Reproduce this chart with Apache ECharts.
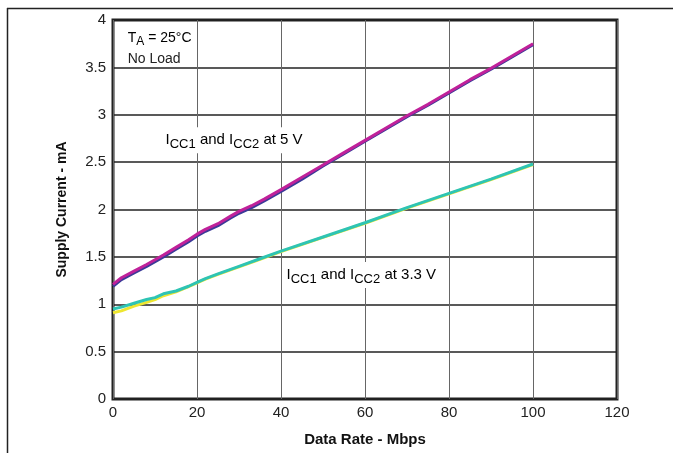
<!DOCTYPE html>
<html><head><meta charset="utf-8">
<script src="https://cdn.jsdelivr.net/npm/echarts@6/dist/echarts.min.js"></script>
<style>html,body{margin:0;padding:0;background:#fff}#c{width:673px;height:453px}</style>
</head><body><div id="c"></div>
<script>
// Data Rate (Mbps)
const x5 = [0, 2, 5, 8, 10, 12, 15, 18, 20, 22, 25, 28, 30, 33, 36, 40, 45, 50, 55, 60, 65, 70, 75, 80, 85, 90, 95, 100];
const icc5a = [1.21, 1.28, 1.35, 1.42, 1.47, 1.52, 1.60, 1.68, 1.74, 1.79, 1.85, 1.93, 1.98, 2.04, 2.11, 2.21, 2.34, 2.47, 2.60, 2.73, 2.86, 2.99, 3.11, 3.24, 3.37, 3.49, 3.62, 3.75];
const icc5b = [1.19, 1.26, 1.33, 1.40, 1.45, 1.50, 1.58, 1.66, 1.72, 1.77, 1.83, 1.91, 1.96, 2.02, 2.09, 2.19, 2.32, 2.46, 2.59, 2.72, 2.85, 2.98, 3.10, 3.23, 3.36, 3.48, 3.61, 3.74];
const x33 = [0, 2, 5, 8, 10, 12, 15, 18, 20, 22, 25, 30, 35, 40, 50, 60, 70, 80, 90, 100];
const icc33a = [0.95, 0.97, 1.01, 1.05, 1.07, 1.11, 1.14, 1.19, 1.23, 1.27, 1.32, 1.40, 1.48, 1.56, 1.71, 1.86, 2.02, 2.17, 2.32, 2.48];
const icc33b = [0.91, 0.93, 0.98, 1.02, 1.05, 1.09, 1.13, 1.185, 1.225, 1.265, 1.315, 1.395, 1.475, 1.555, 1.705, 1.855, 2.015, 2.165, 2.315, 2.475];
const xTicks = [0, 20, 40, 60, 80, 100, 120];
const yTicks = [0, 0.5, 1, 1.5, 2, 2.5, 3, 3.5, 4];

const pair = (xs, ys) => xs.map((v, i) => [v, ys[i]]);
const FONT = 'Arial, "Liberation Sans", sans-serif';
const chart = echarts.init(document.getElementById('c'), null, {renderer: 'canvas'});
const lineS = (name, data, color, z) => ({
  name, type: 'line', data, showSymbol: false, smooth: false, z,
  lineStyle: {color, width: 3}, emphasis: {disabled: true}
});
chart.setOption({
  animation: false,
  grid: {left: 113, top: 20, right: 56, bottom: 54, show: true, borderColor: '#222', borderWidth: 3, backgroundColor: 'transparent'},
  xAxis: {
    type: 'value', min: 0, max: 120, interval: 20,
    name: 'Data Rate - Mbps', nameLocation: 'middle', nameGap: 33,
    nameTextStyle: {fontFamily: FONT, fontWeight: 'bold', fontSize: 15, color: '#111'},
    axisLine: {show: false}, axisTick: {show: false},
    axisLabel: {fontFamily: FONT, fontSize: 15, color: '#222', margin: 6, formatter: v => xTicks.includes(v) ? String(v) : ''},
    splitLine: {show: true, lineStyle: {color: '#666', width: 1}}
  },
  yAxis: {
    type: 'value', min: 0, max: 4, interval: 0.5,
    name: 'Supply Current - mA', nameLocation: 'middle', nameGap: 44,
    nameTextStyle: {fontFamily: FONT, fontWeight: 'bold', fontSize: 14, color: '#111'},
    axisLine: {show: false}, axisTick: {show: false},
    axisLabel: {fontFamily: FONT, fontSize: 15, color: '#222', margin: 7, formatter: v => yTicks.includes(v) ? String(v) : ''},
    splitLine: {show: true, lineStyle: {color: '#222', width: 1.5}}
  },
  series: [
    lineS('ICC2 5V', pair(x5, icc5b), '#3b3a98', 3),
    lineS('ICC1 5V', pair(x5, icc5a), '#c0219a', 4),
    lineS('ICC2 3.3V', pair(x33, icc33b), '#eee630', 3),
    lineS('ICC1 3.3V', pair(x33, icc33a), '#2ec4b4', 4)
  ]
});

const p = (x, y) => chart.convertToPixel({gridIndex: 0}, [x, y]);
const rich = {
  n: {fontFamily: FONT, fontSize: 15, color: '#222'},
  s: {fontFamily: FONT, fontSize: 13, color: '#222', verticalAlign: 'bottom', padding: [9, 0, 0, 0]},
  m: {fontFamily: FONT, fontSize: 14, color: '#222'},
  t: {fontFamily: FONT, fontSize: 12, color: '#222', verticalAlign: 'bottom', padding: [8, 0, 0, 0]}
};
const pa = p(3.5, 3.81), pb = p(3.5, 3.59), pc = p(11.8, 2.73), pd = p(40.6, 1.31);
chart.setOption({
  graphic: [
    {type: 'line', shape: {x1: 7.5, y1: 8, x2: 7.5, y2: 453}, style: {stroke: '#222', lineWidth: 1.5}, silent: true},
    {type: 'line', shape: {x1: 7, y1: 8.5, x2: 673, y2: 8.5}, style: {stroke: '#222', lineWidth: 1.5}, silent: true},
    {type: 'text', x: pa[0], y: pa[1], style: {text: '{m|T}{t|A}{m| = 25°C}', rich, verticalAlign: 'middle'}, z: 10},
    {type: 'text', x: pb[0], y: pb[1], style: {text: 'No Load', fontFamily: FONT, fontSize: 14, fill: '#222', verticalAlign: 'middle'}, z: 10},
    {type: 'text', x: pc[0], y: pc[1], style: {text: '{n|I}{s|CC1}{n| and I}{s|CC2}{n| at 5 V}', rich, verticalAlign: 'middle', backgroundColor: '#fff', padding: [2, 3, 2, 3]}, z: 10},
    {type: 'text', x: pd[0], y: pd[1], style: {text: '{n|I}{s|CC1}{n| and I}{s|CC2}{n| at 3.3 V}', rich, verticalAlign: 'middle', backgroundColor: '#fff', padding: [2, 3, 2, 3]}, z: 10}
  ]
});
</script></body></html>
